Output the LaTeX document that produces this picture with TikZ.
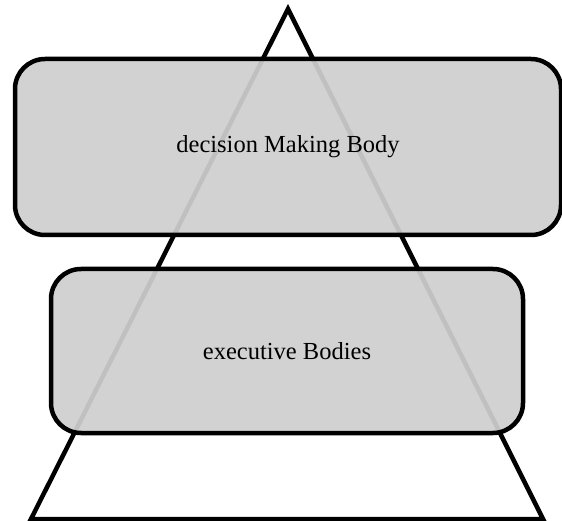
\documentclass[tikz,border=0pt]{standalone}
\usepackage{fontspec}
\setmainfont{Liberation Serif}
\begin{document}
\begin{tikzpicture}[x=1pt, y=-1pt, line width=4.5pt]
    \useasboundingbox (0, 0) rectangle (562, 521);

    % --- Triangle behind the bodies ---
    \coordinate (apex) at (288, 9);
    \coordinate (baseL) at (31, 519);
    \coordinate (baseR) at (543, 519);
    \draw[line join=miter] (apex) -- (baseR) -- (baseL) -- cycle;

    % --- The two bodies, shaded and see-through ---
    \tikzset{body/.style={draw, rounded corners=30pt, fill=gray!38, fill opacity=0.93,
        text opacity=1, font=\fontsize{24.5}{28}\selectfont}}

    \node[body, minimum width=546pt, minimum height=176pt] (decision) at (288, 147) {\raisebox{-3pt}{decision Making Body}};
    \node[body, minimum width=472pt, minimum height=164pt] (executive) at (287, 351) {executive Bodies};
\end{tikzpicture}
\end{document}
